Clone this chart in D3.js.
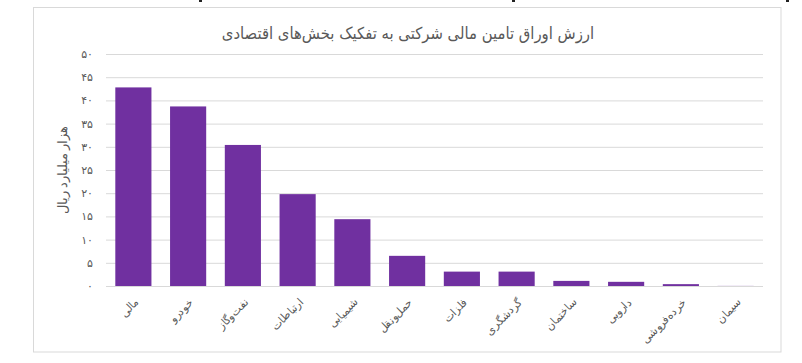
<!DOCTYPE html>
<html>
<head>
<meta charset="utf-8">
<script src="https://cdn.jsdelivr.net/npm/d3@7"></script>
<style>
  body { margin: 0; background: #fff; }
  svg { display: block; font-family: "DejaVu Sans Condensed", "DejaVu Sans", sans-serif; }
</style>
</head>
<body>
<div id="chart"></div>
<script>
// sectors and values (thousand billion rials)
const sectors = ["مالی", "خودرو", "نفت‌وگاز", "ارتباطات", "شیمیایی", "حمل‌ونقل",
  "فلزات", "گردشگری", "ساختمان", "دارویی", "خرده‌فروشی", "سیمان"]
const amounts = [42.8, 38.7, 30.4, 19.8, 14.4, 6.5, 3.1, 3.1, 1.1, 0.9, 0.4, 0.02]
const yTicks = [0, 5, 10, 15, 20, 25, 30, 35, 40, 45, 50]
const title = "ارزش اوراق تامین مالی شرکتی به تفکیک بخش‌های اقتصادی"
const yLabel = "هزار میلیارد ریال"

const width = 802, height = 363
const marginLeft = 106, marginRight = 39, marginTop = 54, marginBottom = 77
const textColor = "#595959", gridColor = "#d9d9d9", barColor = "#7030a0"

// persian digits
const faDigits = "۰۱۲۳۴۵۶۷۸۹"
const fa = n => String(n).replace(/\d/g, c => faDigits[+c])

const x = d3.scaleBand(sectors, [marginLeft, width - marginRight]).paddingInner(0.34).paddingOuter(0.17)
const y = d3.scaleLinear([0, 50], [height - marginBottom, marginTop])

const svg = d3.select("#chart").append("svg")
      .attr("width", width)
      .attr("height", height)
      .attr("viewBox", [0, 0, width, height])

// chart frame
svg.append("rect")
      .attr("x", 33.5).attr("y", 7.5)
      .attr("width", 747.5).attr("height", 344.5)
      .attr("fill", "#fff")
      .attr("stroke", gridColor)

// little dark marks at the very top edge (from the page the chart was cut from)
svg.append("g")
      .selectAll("rect")
      .data([199, 512, 786])
      .join("rect")
      .attr("x", d => d).attr("y", 0)
      .attr("width", 3).attr("height", 2)
      .attr("fill", "#222")

// title
svg.append("text")
      .attr("x", 408).attr("y", 39)
      .attr("text-anchor", "middle")
      .attr("font-size", 16.5)
      .attr("fill", textColor)
      .text(title)

// y axis + gridlines
svg.append("g")
      .attr("transform", `translate(${marginLeft},0)`)
      .call(d3.axisLeft(y).tickValues(yTicks).tickSize(0).tickPadding(13).tickFormat(fa))
      .call(g => g.select(".domain").remove())
      .call(g => g.selectAll(".tick line").clone()
            .attr("x2", width - marginLeft - marginRight)
            .attr("stroke", gridColor)
            .attr("stroke-width", 1))
      .call(g => g.selectAll(".tick text")
            .attr("font-size", 11)
            .attr("font-family", "DejaVu Sans, sans-serif")
            .attr("fill", textColor))
      .call(g => g.append("text")
            .attr("transform", `translate(-39,${(y(0) + y(50)) / 2}) rotate(-90)`)
            .attr("text-anchor", "middle")
            .attr("font-size", 12.5)
            .attr("fill", textColor)
            .text(yLabel))

// bars
svg.append("g")
      .selectAll("rect")
      .data(sectors)
      .join("rect")
      .attr("x", (d) => x(d))
      .attr("y", (d, i) => y(amounts[i]))
      .attr("width", x.bandwidth())
      .attr("height", (d, i) => y(0) - y(amounts[i]))
      .attr("fill", barColor)

// x axis
svg.append("g")
      .attr("transform", `translate(0,${y(0)})`)
      .call(d3.axisBottom(x).tickSize(0).tickPadding(0))
      .call(g => g.select(".domain")
            .attr("stroke", gridColor)
            .attr("d", `M${marginLeft},0.5H${width - marginRight}`))
      .call(g => g.selectAll(".tick text")
            .attr("font-size", 11)
            .attr("fill", textColor)
            .attr("text-anchor", "end")
            .attr("dy", 0)
            .attr("transform", "translate(6,17) rotate(-45)"))
</script>
</body>
</html>
